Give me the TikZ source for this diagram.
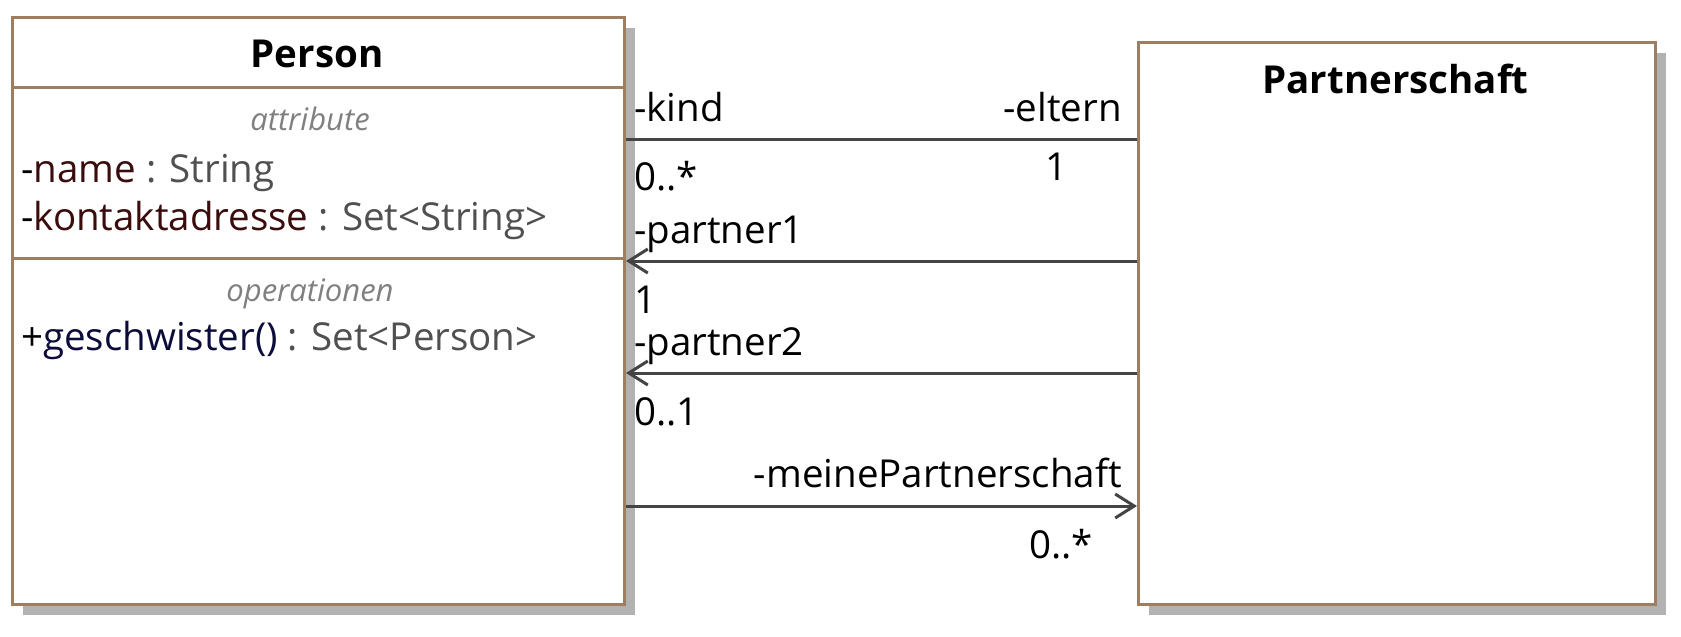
\documentclass[tikz,border=0pt]{standalone}
\usepackage{fontspec}
\setmainfont{Open Sans}
\usetikzlibrary{arrows.meta,shadows}
\definecolor{brd}{RGB}{158,126,96}
\definecolor{shd}{RGB}{178,178,178}
\definecolor{lnc}{RGB}{68,68,68}
\definecolor{grt}{RGB}{128,128,128}
\definecolor{tyc}{RGB}{80,80,80}
\definecolor{atc}{RGB}{58,12,12}
\definecolor{opc}{RGB}{12,12,58}
\tikzset{
  umlbox/.style={draw=brd, line width=3pt, fill=white, anchor=north west, inner sep=0pt,
    drop shadow={shadow xshift=10pt, shadow yshift=-10pt, fill=shd, opacity=1}},
  sep/.style={draw=brd, line width=3pt},
  conn/.style={draw=lnc, line width=3pt},
  tipb/.tip={Straight Barb[length=19pt,width=24pt]},
  lbl/.style={inner sep=0pt, font=\fontsize{38.5}{46}\selectfont},
  ttl/.style={inner sep=0pt, font=\fontsize{38.5}{46}\selectfont\bfseries},
  cmp/.style={inner sep=0pt, font=\fontsize{31}{37}\selectfont\itshape, text=grt},
}
\begin{document}
\begin{tikzpicture}[x=1pt,y=-1pt]
\useasboundingbox (0,0) rectangle (1681,637);
% boxes
\node[umlbox, minimum width=612pt, minimum height=587pt] (person) at (11,16) {};
\node[umlbox, minimum width=517pt, minimum height=562pt] (partner) at (1137,41) {};
% compartments of Person
\draw[sep] (person.west |- 0,87) -- (person.east |- 0,87);
\draw[sep] (person.west |- 0,258) -- (person.east |- 0,258);
% texts in Person
\node[ttl, anchor=base] (ptitle) at (317,67) {Person};
\node[cmp, anchor=base] (attrhd) at (310,130) {attribute};
\node[lbl, anchor=base west] (a1) at (21,182) {-\textcolor{atc}{name} \textcolor{tyc}{: String}};
\node[lbl, anchor=base west] (a2) at (21,230) {-\textcolor{atc}{kontaktadresse} \textcolor{tyc}{: Set<String>}};
\node[cmp, anchor=base] (ophd) at (310,301) {operationen};
\node[lbl, anchor=base west] (o1) at (21,350) {+\textcolor{opc}{geschwister()} \textcolor{tyc}{: Set<Person>}};
% title of Partnerschaft
\node[ttl, anchor=base] (qtitle) at (1395.5,93) {Partnerschaft};
% connectors
\draw[conn] (person.east |- 0,139) -- (partner.west |- 0,139);
\draw[conn, -{tipb}] (partner.west |- 0,261) -- (person.east |- 0,261);
\draw[conn, -{tipb}] (partner.west |- 0,373) -- (person.east |- 0,373);
\draw[conn, -{tipb}] (person.east |- 0,506) -- (partner.west |- 0,506);
% connector labels
\node[lbl, anchor=base west] (l1) at (634,121) {-kind};
\node[lbl, anchor=base east] (l2) at (1122,121) {-eltern};
\node[lbl, anchor=base west] (l3) at (634,190) {0..*};
\node[lbl, anchor=base east] (l4) at (1068,180) {1};
\node[lbl, anchor=base west] (l5) at (634,243) {-partner1};
\node[lbl, anchor=base west] (l6) at (634,313) {1};
\node[lbl, anchor=base west] (l7) at (634,355) {-partner2};
\node[lbl, anchor=base west] (l8) at (634,425) {0..1};
\node[lbl, anchor=base east] (l9) at (1122,487) {-meinePartnerschaft};
\node[lbl, anchor=base east] (l10) at (1093,558) {0..*};
\end{tikzpicture}
\end{document}
